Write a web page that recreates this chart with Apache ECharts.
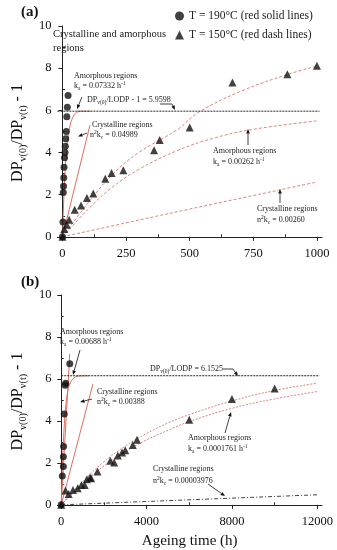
<!DOCTYPE html>
<html><head><meta charset="utf-8">
<script src="https://cdn.jsdelivr.net/npm/echarts@6/dist/echarts.min.js"></script>
<style>html,body{margin:0;padding:0;background:#fff}#c{width:337px;height:550px}</style>
</head><body><div id="c"></div>
<script>
// ---------- data ----------
const legendNames = ['T = 190°C (red solid lines)', 'T = 150°C (red dash lines)'];
const yTicks = [0, 2, 4, 6, 8, 10];
const yMinor = [1, 3, 5, 7, 9];
const xTicksA = [0, 250, 500, 750, 1000];
const xMinorA = [125, 375, 625, 875];
const xTicksB = [0, 4000, 8000, 12000];
const xMinorB = [2000, 6000, 10000];

// Panel (a)
const circA_t = [0, 2, 3, 4, 5, 6, 8, 10, 11, 13, 15, 17, 19, 22];
const circA_v = [0, 0.7, 2.1, 2.4, 2.8, 3.3, 3.75, 4.0, 4.3, 4.65, 5.0, 5.7, 6.15, 6.7];
const triA_t = [0, 7, 17, 26, 48, 73, 96, 121, 168, 193, 239, 360, 382, 500, 668, 884, 1000];
const triA_v = [0, 0.37, 0.57, 0.81, 1.29, 1.49, 1.84, 2.05, 2.76, 3.03, 3.16, 4.11, 4.59, 5.18, 7.32, 7.71, 8.11];
const amorA190_t = [0, 5, 10, 15, 20, 30, 40, 55, 80, 110];
const amorA190_v = [0, 1.8, 3.1, 3.9, 4.6, 5.3, 5.65, 5.9, 5.96, 5.96];
const crysA190_t = [0, 108];
const crysA190_v = [0, 5.3];
const upA150_t = [0, 100, 200, 300, 453, 534, 700, 884, 1000];
const upA150_v = [0, 1.6, 3.0, 4.0, 5.1, 5.9, 6.9, 7.7, 8.1];
const amorA150_t = [0, 100, 193, 300, 453, 600, 750, 1000];
const amorA150_v = [0, 1.3, 2.33, 3.2, 4.1, 4.7, 5.1, 5.5];
const crysA150_t = [0, 416, 1000];
const crysA150_v = [0, 1.1, 2.6];
const plateauA = 5.9598;
const plateauA_t = [-20, 1010];

// Panel (b)
const circB_t = [0, 50, 100, 100, 110, 140, 180, 210, 400];
const circB_v = [0, 1.38, 1.83, 2.29, 2.78, 4.33, 5.7, 5.8, 6.72];
const triB_t = [0, 200, 350, 550, 770, 950, 1100, 1200, 1350, 1400, 1700, 2300, 2480, 2650, 2850, 3000, 3350, 3550, 6000, 8000, 10000];
const triB_v = [0, 0.68, 0.52, 0.71, 0.79, 0.95, 0.95, 1.22, 1.3, 1.27, 1.59, 2.1, 2.02, 2.35, 2.5, 2.6, 2.85, 3.1, 4.05, 5.05, 5.55];
const amorB190_t = [0, 50, 100, 150, 200, 300, 400, 600, 900, 1300];
const amorB190_v = [0, 1.8, 3.0, 3.9, 4.6, 5.4, 5.75, 6.05, 6.14, 6.15];
const steepB190_t = [0, 400];
const steepB190_v = [0, 7.2];
const crysB190_t = [0, 1480];
const crysB190_v = [0, 5.75];
const upB150_t = [0, 1000, 2000, 3000, 4000, 5000, 6000, 8000, 10000, 12000];
const upB150_v = [0, 1.1, 2.05, 2.8, 3.4, 3.9, 4.3, 4.95, 5.45, 5.8];
const amorB150_t = [0, 1000, 2000, 3000, 4000, 5000, 6000, 8000, 10000, 12000];
const amorB150_v = [0, 1.0, 1.85, 2.53, 3.1, 3.55, 3.97, 4.6, 5.05, 5.4];
const crysB150_t = [0, 12000];
const crysB150_v = [0, 0.48];
const plateauB = 6.1525;
const plateauB_t = [0, 12100];

// ---------- helpers ----------
const FONT = '"Liberation Serif", "DejaVu Serif", serif';
const pts = (t, v) => t.map((x, i) => [x, v[i]]);
const flat = (t, c) => t.map(x => [x, c]);
const RED = '#de6e5e';
const RED2 = '#e0837a';

function lineSeries(xi, data, color, type, smooth, width) {
  return { type: 'line', xAxisIndex: xi, yAxisIndex: xi, data: data, showSymbol: false, symbol: 'none',
    smooth: smooth ? 0.4 : false, lineStyle: { color: color, width: width || 1, type: type }, z: 2, silent: true };
}
function scatter(xi, name, data, sym, size) {
  return { type: 'scatter', name: name, xAxisIndex: xi, yAxisIndex: xi, data: data, symbol: sym, symbolSize: size,
    itemStyle: { color: '#111' }, z: 5 };
}
const plain = v => String(v);
function xAxes(min, max, ticks, minor, gi, withName) {
  return [
    { type: 'value', gridIndex: gi, min: min, max: max, splitLine: { show: false },
      axisLine: { show: true, lineStyle: { color: '#222', width: 1 } },
      axisTick: { show: true, customValues: ticks, length: 4, lineStyle: { color: '#222' } },
      axisLabel: { customValues: ticks, formatter: plain, fontFamily: FONT, fontSize: 12.5, color: '#111', margin: 7 },
      name: withName ? 'Ageing time (h)' : '', nameLocation: 'middle', nameGap: 26,
      nameTextStyle: { fontFamily: FONT, fontSize: 15, color: '#111' } },
    { type: 'value', gridIndex: gi, min: min, max: max, splitLine: { show: false },
      axisLine: { show: false }, axisLabel: { show: false },
      axisTick: { show: true, customValues: minor, length: 2.5, lineStyle: { color: '#222' } } }
  ];
}
const yRich = { s: { fontSize: 10, lineHeight: 10, verticalAlign: 'bottom', fontFamily: FONT, color: '#111' } };
function yAxes(gi) {
  return [
    { type: 'value', gridIndex: gi, min: -0.15, max: 10, splitLine: { show: false },
      axisLine: { show: true, lineStyle: { color: '#222', width: 1 } },
      axisTick: { show: true, customValues: yTicks, length: 4, lineStyle: { color: '#222' } },
      axisLabel: { customValues: yTicks, formatter: plain, fontFamily: FONT, fontSize: 12.5, color: '#111', margin: 6 },
      name: 'DP{s|v(0)}/DP{s|v(t)} - 1', nameLocation: 'middle', nameGap: 19, nameRotate: 90,
      nameTextStyle: { fontFamily: FONT, fontSize: 16, lineHeight: 20, color: '#111', rich: yRich } },
    { type: 'value', gridIndex: gi, min: -0.15, max: 10, splitLine: { show: false },
      axisLine: { show: false }, axisLabel: { show: false },
      axisTick: { show: true, customValues: yMinor, length: 2.5, lineStyle: { color: '#222' } } }
  ];
}

const tRich = {
  s: { fontSize: 5.5, lineHeight: 6, verticalAlign: 'bottom', fontFamily: FONT, fill: '#222' },
  p: { fontSize: 5.5, lineHeight: 6, verticalAlign: 'top', fontFamily: FONT, fill: '#222' }
};
function txt(x, y, s, size) {
  return { type: 'text', silent: true, z: 10, style: { text: s, x: x, y: y, fontFamily: FONT, fontSize: size || 8,
    lineHeight: 11, fill: '#222', verticalAlign: 'middle', rich: tRich } };
}
function seg(x1, y1, x2, y2) {
  return { type: 'line', silent: true, z: 10, shape: { x1: x1, y1: y1, x2: x2, y2: y2 }, style: { stroke: '#111', lineWidth: 0.8 } };
}
function arrow(x1, y1, x2, y2) {
  const a = Math.atan2(y2 - y1, x2 - x1), L = 4.5, W = 1.8;
  const bx = x2 - L * Math.cos(a), by = y2 - L * Math.sin(a);
  const px = -Math.sin(a) * W, py = Math.cos(a) * W;
  return [seg(x1, y1, bx, by),
    { type: 'polygon', silent: true, z: 10, shape: { points: [[x2, y2], [bx + px, by + py], [bx - px, by - py]] }, style: { fill: '#111' } }];
}

const graphics = [
  { type: 'text', style: { text: '(a)', x: 21, y: 12, fontFamily: FONT, fontSize: 15, fontWeight: 'bold', fill: '#111', verticalAlign: 'middle' } },
  { type: 'text', style: { text: '(b)', x: 21, y: 282, fontFamily: FONT, fontSize: 15, fontWeight: 'bold', fill: '#111', verticalAlign: 'middle' } },
  txt(53, 34, 'Crystalline and amorphous', 10.5),
  txt(53, 48, 'regions', 10.5),
  txt(74, 76, 'Amorphous regions'),
  txt(74, 86, 'k{s|a} = 0.07332 h{p|-1}'),
  txt(87, 100, 'DP{s|v(0)}/LODP - 1 = 5.9598'),
  txt(92, 125, 'Crystalline regions'),
  txt(90, 135, 'n{p|2}k{s|c} = 0.04989'),
  txt(213, 151, 'Amorphous regions'),
  txt(213, 162, 'k{s|a} = 0.00262 h{p|-1}'),
  txt(257, 209, 'Crystalline regions'),
  txt(257, 220, 'n{p|2}k{s|c} = 0.00260'),
  txt(60, 332, 'Amorphous regions'),
  txt(60, 342, 'k{s|a} = 0.00688 h{p|-1}'),
  txt(150, 369, 'DP{s|v(0)}/LODP = 6.1525'),
  txt(97, 392, 'Crystalline regions'),
  txt(97, 402, 'n{p|2}k{s|c} = 0.00388'),
  txt(188, 438, 'Amorphous regions'),
  txt(188, 449, 'k{s|a} = 0.0001761 h{p|-1}'),
  txt(153, 469, 'Crystalline regions'),
  txt(153, 481, 'n{p|2}k{s|c} = 0.00003976'),
  seg(160, 104, 172, 104),
  seg(223, 369, 233, 369)
].concat(
  arrow(82, 97, 77, 109),
  arrow(172, 104, 175, 110),
  arrow(87, 133, 78, 136.5),
  arrow(248, 145, 248, 129),
  arrow(280, 203, 280, 189),
  arrow(80, 350, 73, 375),
  arrow(233, 369, 238, 376),
  arrow(92, 399, 80, 402),
  arrow(225, 433, 231, 412),
  arrow(208, 484, 225, 496)
);

const option = {
  animation: false,
  backgroundColor: '#fff',
  textStyle: { fontFamily: FONT },
  legend: {
    data: [{ name: legendNames[0], icon: 'circle' }, { name: legendNames[1], icon: 'triangle' }],
    orient: 'vertical', left: 170, top: 5, itemWidth: 9, itemHeight: 9, itemGap: 7,
    textStyle: { fontFamily: FONT, fontSize: 11.5, color: '#222' }, selectedMode: false
  },
  grid: [
    { left: 43, top: 26, width: 279, height: 214 },
    { left: 43, top: 295, width: 279, height: 213 }
  ],
  xAxis: [].concat(xAxes(-20, 1020, xTicksA, xMinorA, 0, false), xAxes(-180, 12220, xTicksB, xMinorB, 1, true)),
  yAxis: [].concat(yAxes(0), yAxes(1)),
  graphic: graphics,
  series: [
    lineSeries(0, pts(amorA190_t, amorA190_v), RED, 'solid', true),
    lineSeries(0, pts(crysA190_t, crysA190_v), RED, 'solid', false),
    lineSeries(0, pts(upA150_t, upA150_v), RED2, [3, 2], true),
    lineSeries(0, pts(amorA150_t, amorA150_v), RED2, [3, 2], true),
    lineSeries(0, pts(crysA150_t, crysA150_v), RED2, [3, 2], true),
    lineSeries(0, flat(plateauA_t, plateauA), '#222', [2, 1], false),
    scatter(0, legendNames[0], pts(circA_t, circA_v), 'circle', 7),
    scatter(0, legendNames[1], pts(triA_t, triA_v), 'triangle', 8),

    lineSeries(2, pts(amorB190_t, amorB190_v), RED, 'solid', true),
    lineSeries(2, pts(steepB190_t, steepB190_v), RED, 'solid', false),
    lineSeries(2, pts(crysB190_t, crysB190_v), RED, 'solid', false),
    lineSeries(2, pts(upB150_t, upB150_v), RED2, [2, 1.5], true),
    lineSeries(2, pts(amorB150_t, amorB150_v), RED2, [2, 1.5], true),
    lineSeries(2, pts(crysB150_t, crysB150_v), '#444', [4, 2, 1, 2], false),
    lineSeries(2, flat(plateauB_t, plateauB), '#222', [2, 1], false),
    scatter(2, legendNames[0], pts(circB_t, circB_v), 'circle', 7),
    scatter(2, legendNames[1], pts(triB_t, triB_v), 'triangle', 8)
  ]
};
const chart = echarts.init(document.getElementById('c'), null, { renderer: 'canvas' });
chart.setOption(option);
</script>
</body></html>
